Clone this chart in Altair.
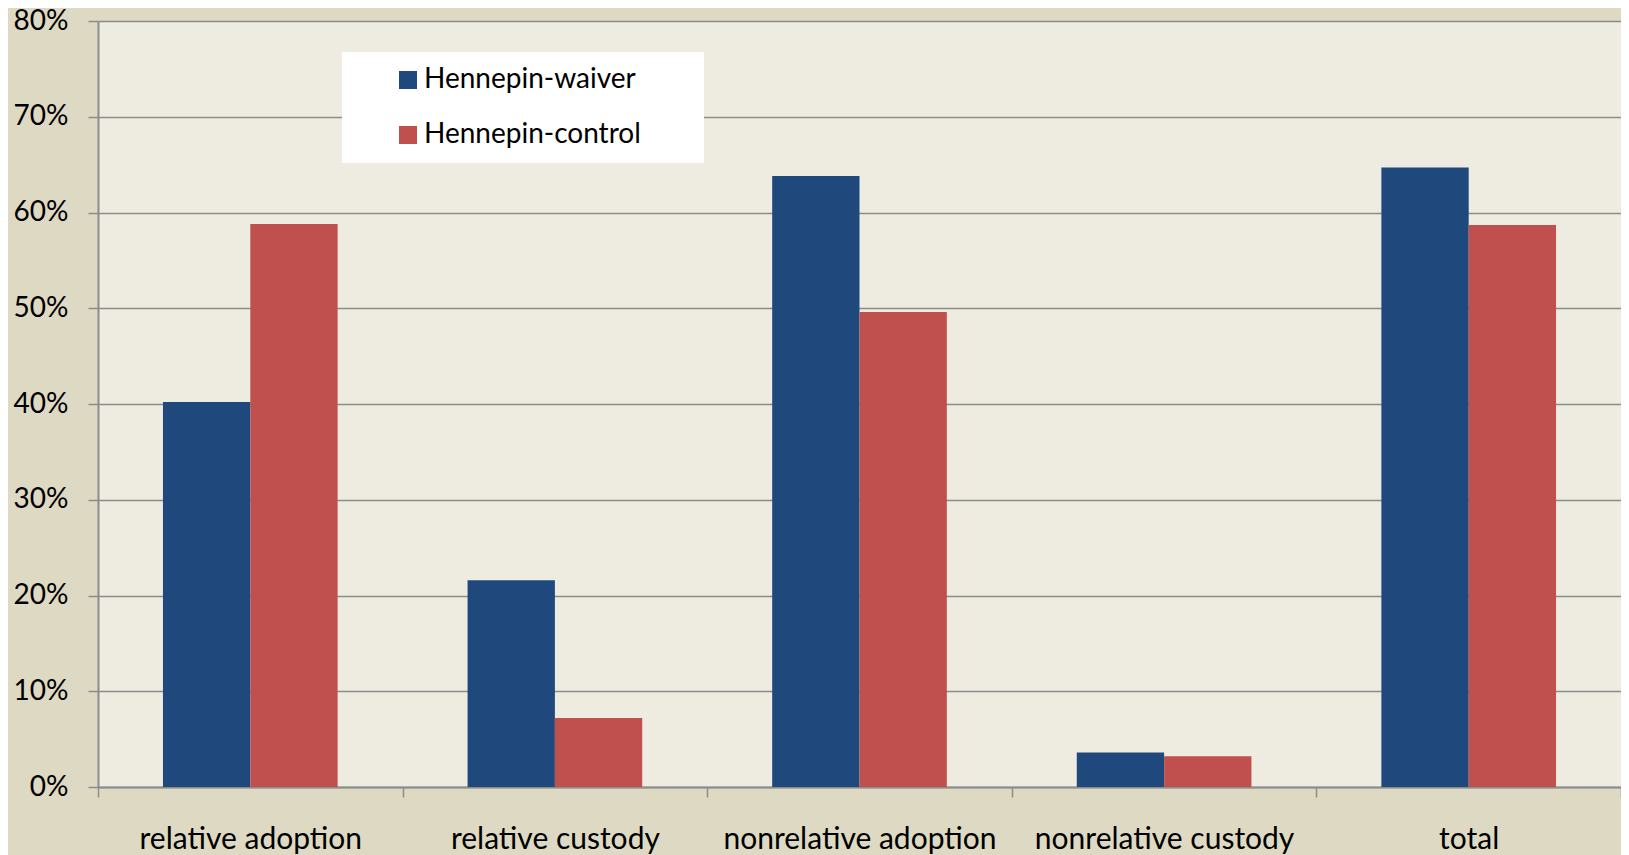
import altair as alt
import pandas as pd

categories = ["relative adoption", "relative  custody", "nonrelative adoption",
              "nonrelative custody", "total"]
series = ["Hennepin-waiver", "Hennepin-control"]
waiver = [0.402, 0.216, 0.638, 0.036, 0.647]
control = [0.588, 0.072, 0.496, 0.032, 0.587]
colors = ["#1F497D", "#C0504D"]
y_ticks = [0, 0.1, 0.2, 0.3, 0.4, 0.5, 0.6, 0.7, 0.8]

rows = []
for c, w, k in zip(categories, waiver, control):
    rows.append({"category": c, "series": series[0], "value": w})
    rows.append({"category": c, "series": series[1], "value": k})
df = pd.DataFrame(rows)

W, H = 1523, 766
FONT = "Lato"
GRID = "#8C8C8C"

chart = alt.Chart(df).mark_bar().encode(
    x=alt.X("category:N", sort=categories,
            scale=alt.Scale(paddingInner=0, paddingOuter=0),
            axis=alt.Axis(title=None, labelAngle=0, tickBand="extent", tickSize=10,
                          tickColor=GRID, tickWidth=1.5, domainColor=GRID, domainWidth=2,
                          labelPadding=27, labelFontSize=30, labelFont=FONT,
                          labelColor="black", labelLimit=0, grid=False)),
    xOffset=alt.XOffset("series:N", sort=series,
                        scale=alt.Scale(paddingInner=0, paddingOuter=0.744)),
    y=alt.Y("value:Q", scale=alt.Scale(domain=[0, 0.8], nice=False),
            axis=alt.Axis(title=None, format=".0%", values=y_ticks, tickSize=10,
                          tickColor=GRID, tickWidth=1.5, domainColor=GRID, domainWidth=2,
                          gridColor=GRID, gridWidth=1.5, grid=True,
                          labelPadding=20, labelFontSize=28, labelFont=FONT,
                          labelColor="black")),
    color=alt.Color("series:N", sort=series,
                    scale=alt.Scale(domain=series, range=colors),
                    legend=alt.Legend(title=None, orient="none", legendX=244, legendY=31,
                                      fillColor="white", padding=14, symbolType="square",
                                      symbolSize=324, symbolOffset=38, labelOffset=2,
                                      labelFontSize=28, labelFont=FONT, labelColor="black",
                                      labelLimit=0,
                                      rowPadding=27, symbolStrokeWidth=0,
                                      labelExpr="datum.label + '\u2800\u2009\u2009\u2800'")),
).properties(
    width=W, height=H,
    padding={"left": 90, "top": 13, "right": 0, "bottom": 68},
    autosize=alt.AutoSizeParams(type="none"),
    background="#DDD9C3",
).configure_view(fill="#EEECE1", strokeWidth=0)

chart.save("out.html", embed_options={"renderer": "svg", "actions": False})
